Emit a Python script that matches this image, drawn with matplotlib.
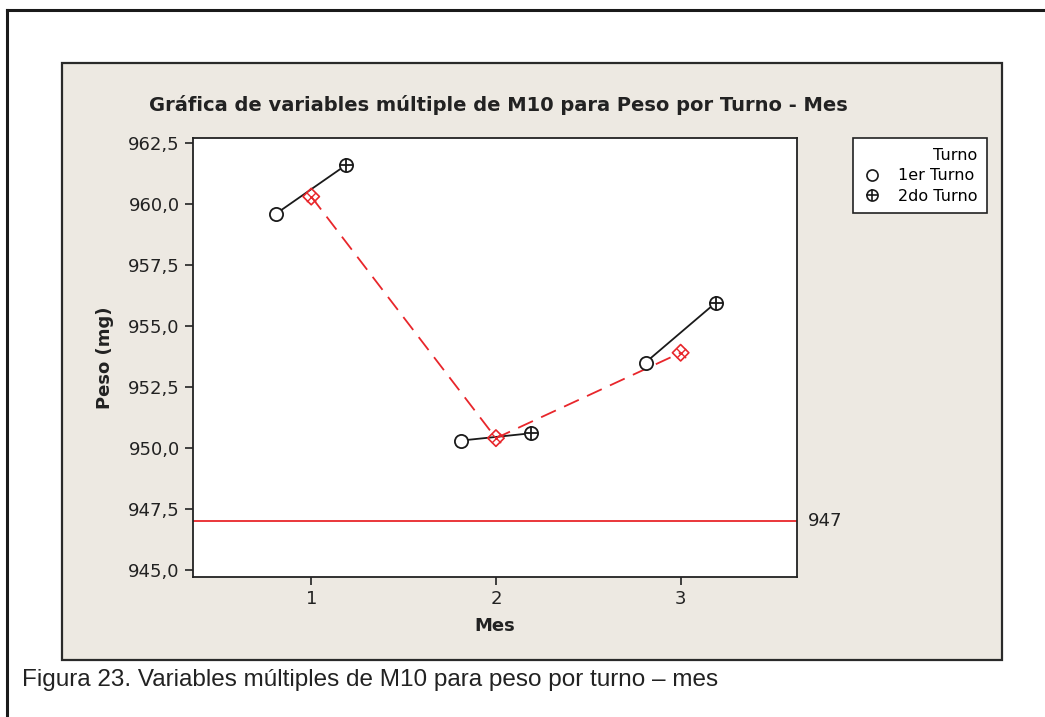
import numpy as np
import matplotlib
matplotlib.use("Agg")
import matplotlib.pyplot as plt
from matplotlib.patches import Rectangle
from matplotlib.lines import Line2D
from matplotlib.legend_handler import HandlerTuple
from matplotlib.ticker import FuncFormatter

# data
meses = [1, 2, 3]
peso_1er_turno = [959.6, 950.3, 953.5]
peso_2do_turno = [961.6, 950.6, 955.95]
peso_medio_mes = [960.3, 950.4, 953.9]
limite = 947
y_ticks = [945.0, 947.5, 950.0, 952.5, 955.0, 957.5, 960.0, 962.5]

W, H = 1045, 717
fig = plt.figure(figsize=(W / 100, H / 100), dpi=100)

# outer frame (left and top only)
fig.add_artist(Line2D([7 / W, 7 / W], [0, 1 - 10 / H], transform=fig.transFigure,
                      color="#1a1a1a", lw=2.2))
fig.add_artist(Line2D([7 / W, 1], [1 - 10 / H, 1 - 10 / H], transform=fig.transFigure,
                      color="#1a1a1a", lw=2.2))

# beige panel
fig.add_artist(Rectangle((62 / W, 1 - 660 / H), 940 / W, 597 / H, transform=fig.transFigure,
                         facecolor="#ede9e2", edgecolor="#2a2a2a", lw=1.6, zorder=0))

ax = fig.add_axes([193 / W, 1 - 577 / H, 604 / W, 439 / H])
ax.set_facecolor("white")

off = 0.19
x1 = np.array(meses) - off
x2 = np.array(meses) + off

# black lines joining the two shifts of each month
for a, b, ya, yb in zip(x1, x2, peso_1er_turno, peso_2do_turno):
    ax.plot([a, b], [ya, yb], color="#1a1a1a", lw=1.3, zorder=2)

# red dashed line joining month means
ax.plot(meses, peso_medio_mes, color="#e8262b", lw=1.3, ls=(0, (9, 5)), zorder=3)
ax.scatter(meses, peso_medio_mes, marker="D", s=70, facecolors="none",
           edgecolors="#e8262b", lw=1.2, zorder=4)
ax.scatter(meses, peso_medio_mes, marker="x", s=45, color="#e8262b", lw=1.0, zorder=4)

ax.scatter(x1, peso_1er_turno, marker="o", s=90, facecolors="white",
           edgecolors="#1a1a1a", lw=1.3, zorder=5)
ax.scatter(x2, peso_2do_turno, marker="o", s=90, facecolors="white",
           edgecolors="#1a1a1a", lw=1.3, zorder=5)
ax.scatter(x2, peso_2do_turno, marker="+", s=90, color="#1a1a1a", lw=1.3, zorder=6)

# reference line
ax.axhline(limite, color="#e8262b", lw=1.3, zorder=1)
ax.annotate(str(limite), xy=(1, limite), xycoords=("axes fraction", "data"),
            xytext=(8, 0), textcoords="offset points", va="center", ha="left",
            fontsize=13, color="#222222", annotation_clip=False)

ax.set_xlim(0.36, 3.63)
ax.set_ylim(944.71, 962.7)
ax.set_xticks(meses)
ax.set_yticks(y_ticks)
ax.yaxis.set_major_formatter(FuncFormatter(lambda v, p: f"{v:.1f}".replace(".", ",")))
ax.tick_params(labelsize=13, colors="#222222", length=6, width=1.2)
for s in ax.spines.values():
    s.set_linewidth(1.3)
    s.set_color("#222222")

ax.set_xlabel("Mes", fontsize=13, fontweight="bold", color="#222222", labelpad=6)
ax.set_ylabel("Peso (mg)", fontsize=13, fontweight="bold", color="#222222", labelpad=10)

fig.text(498 / W, 1 - 105 / H, "Gráfica de variables múltiple de M10 para Peso por Turno - Mes",
         ha="center", va="center", fontsize=14, fontweight="bold", color="#222222")

h1 = Line2D([], [], marker="o", ls="none", markersize=8, markerfacecolor="none",
            markeredgecolor="#1a1a1a", markeredgewidth=1.2)
h2a = Line2D([], [], marker="o", ls="none", markersize=8, markerfacecolor="none",
             markeredgecolor="#1a1a1a", markeredgewidth=1.2)
h2b = Line2D([], [], marker="+", ls="none", markersize=8, color="#1a1a1a", markeredgewidth=1.2)
leg = fig.legend([h1, (h2a, h2b)], ["1er Turno", "2do Turno"], title="Turno",
                 handler_map={tuple: HandlerTuple(ndivide=1, pad=0)},
                 loc="upper left", bbox_to_anchor=(853 / W, 1 - 138 / H),
                 fontsize=11.5, title_fontsize=11.5, fancybox=False, framealpha=1,
                 edgecolor="#222222", handlelength=1.2, handletextpad=1.0,
                 borderpad=0.6, labelspacing=0.35, borderaxespad=0, alignment="right")
leg.get_frame().set_linewidth(1.2)

fig.text(22 / W, 1 - 680 / H, "Figura 23. Variables múltiples de M10 para peso por turno – mes",
         ha="left", va="center", fontsize=17.5, family="Liberation Sans", color="#222222")

fig.savefig("out.png", dpi=100)
